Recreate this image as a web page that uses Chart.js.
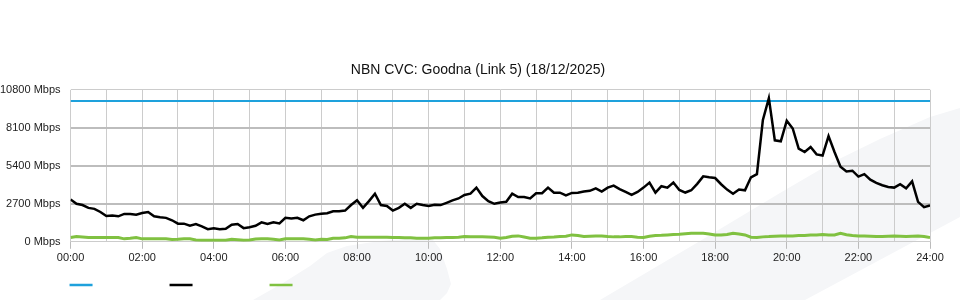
<!DOCTYPE html>
<html>
<head>
<meta charset="utf-8">
<title>NBN CVC: Goodna (Link 5)</title>
<script src="https://cdn.jsdelivr.net/npm/chart.js@4/dist/chart.umd.min.js"></script>
<style>
  html, body { margin: 0; padding: 0; background: #fff; }
  canvas { display: block; }
</style>
</head>
<body>
<canvas id="cvcChart" width="960" height="300"></canvas>
<script>
// one sample every 10 minutes, 00:00 .. 24:00
const stepMinutes = 10;
const capacityMbps = 10000;

const downloadMbps = [
  3010, 2700, 2610, 2410, 2340, 2120,
  1830, 1860, 1810, 1980, 1980, 1930,
  2050, 2120, 1810, 1740, 1700, 1530,
  1290, 1290, 1140, 1260, 1090, 900,
  970, 900, 920, 1210, 1260, 970,
  1040, 1140, 1380, 1260, 1380, 1310,
  1700, 1650, 1700, 1530, 1810, 1930,
  2000, 2030, 2170, 2170, 2220, 2610,
  2950, 2410, 2890, 3420, 2610, 2540,
  2220, 2410, 2700, 2410, 2700, 2610,
  2540, 2630, 2610, 2770, 2940, 3080,
  3330, 3420, 3850, 3250, 2890, 2700,
  2790, 2840, 3420, 3180, 3180, 3080,
  3450, 3450, 3850, 3490, 3490, 3300,
  3470, 3490, 3570, 3620, 3800, 3570,
  3850, 3990, 3740, 3540, 3330, 3540,
  3850, 4210, 3490, 3950, 3850, 4210,
  3680, 3500, 3660, 4120, 4650, 4580,
  4530, 4090, 3710, 3420, 3710, 3660,
  4580, 4810, 8660, 10210, 7210, 7140,
  8600, 8050, 6620, 6380, 6730, 6210,
  6130, 7510, 6380, 5340, 5000, 5050,
  4630, 4810, 4410, 4190, 4020, 3900,
  3850, 4090, 3800, 4290, 2840, 2460,
  2590
];

const uploadMbps = [
  300, 370, 340, 300, 300, 300,
  300, 300, 300, 210, 250, 300,
  210, 210, 210, 210, 210, 160,
  180, 210, 210, 130, 110, 110,
  110, 110, 110, 180, 150, 110,
  130, 200, 210, 210, 180, 130,
  210, 210, 210, 210, 180, 130,
  180, 160, 250, 250, 280, 370,
  330, 330, 330, 330, 330, 330,
  310, 300, 290, 280, 260, 250,
  250, 280, 290, 300, 300, 330,
  370, 360, 360, 350, 340, 330,
  250, 300, 400, 420, 340, 260,
  250, 280, 330, 340, 370, 400,
  490, 450, 370, 400, 420, 420,
  370, 350, 350, 370, 370, 330,
  300, 400, 450, 460, 490, 520,
  540, 580, 610, 610, 610, 560,
  490, 490, 520, 610, 560, 490,
  330, 300, 350, 370, 400, 420,
  420, 420, 440, 450, 480, 490,
  520, 490, 490, 600, 500, 450,
  420, 420, 400, 370, 370, 400,
  420, 400, 370, 400, 420, 370,
  300
];

const yTicks = [0, 2700, 5400, 8100, 10800];
const xTickLabels = ['00:00', '02:00', '04:00', '06:00', '08:00', '10:00', '12:00',
  '14:00', '16:00', '18:00', '20:00', '22:00', '24:00'];

const toPoints = values => values.map((v, i) => ({ x: i * stepMinutes / 60, y: v }));

// faint grey swooshes behind the plot
const backdrop = {
  id: 'backdrop',
  beforeDraw(chart) {
    const ctx = chart.ctx;
    ctx.save();
    ctx.fillStyle = '#f5f6f8';
    ctx.beginPath();
    ctx.moveTo(600, 300);
    ctx.lineTo(700, 241);
    ctx.lineTo(780, 193);
    ctx.lineTo(833, 162);
    ctx.lineTo(880, 139);
    ctx.lineTo(930, 117);
    ctx.lineTo(960, 108);
    ctx.lineTo(960, 217);
    ctx.lineTo(805, 300);
    ctx.closePath();
    ctx.fill();
    ctx.beginPath();
    ctx.moveTo(253, 300);
    ctx.lineTo(283, 283);
    ctx.lineTo(310, 266);
    ctx.lineTo(327, 253);
    ctx.lineTo(347, 246);
    ctx.lineTo(380, 241);
    ctx.lineTo(407, 239);
    ctx.lineTo(433, 240);
    ctx.lineTo(440, 249);
    ctx.lineTo(447, 269);
    ctx.lineTo(451, 284);
    ctx.lineTo(447, 293);
    ctx.lineTo(440, 300);
    ctx.closePath();
    ctx.fill();
    ctx.restore();
  }
};

// legend: just short coloured strokes, no text
const lineKey = {
  id: 'lineKey',
  afterDraw(chart) {
    const ctx = chart.ctx;
    const left = chart.chartArea.left;
    ctx.save();
    chart.data.datasets.forEach((ds, i) => {
      ctx.strokeStyle = ds.borderColor;
      ctx.lineWidth = 2.5;
      ctx.beginPath();
      ctx.moveTo(left + i * 100 - 1, 285);
      ctx.lineTo(left + i * 100 + 22, 285);
      ctx.stroke();
    });
    ctx.restore();
  }
};

Chart.defaults.font.family = '"Liberation Sans", Arial, sans-serif';
Chart.defaults.color = '#222';

new Chart(document.getElementById('cvcChart'), {
  type: 'line',
  data: {
    datasets: [
      {
        label: 'Capacity',
        data: [{ x: 0, y: capacityMbps }, { x: 24, y: capacityMbps }],
        borderColor: '#1ea1dc',
        borderWidth: 2,
        pointRadius: 0,
        order: 2,
      },
      {
        label: 'Download',
        data: toPoints(downloadMbps),
        borderColor: '#000000',
        borderWidth: 2.5,
        pointRadius: 0,
        order: 0,
      },
      {
        label: 'Upload',
        data: toPoints(uploadMbps),
        borderColor: '#80c141',
        borderWidth: 3,
        pointRadius: 0,
        order: 1,
      },
    ]
  },
  options: {
    responsive: false,
    animation: false,
    // title box spans -10..966 so it centres near the middle of the canvas
    layout: { padding: { top: 0, right: -6, bottom: 32, left: -10 } },
    plugins: {
      legend: { display: false },
      tooltip: { enabled: false },
      title: {
        display: true,
        text: 'NBN CVC: Goodna (Link 5) (18/12/2025)',
        font: { size: 14, weight: 'normal' },
        color: '#111',
        padding: { top: 62, bottom: 11 },
      },
    },
    scales: {
      x: {
        type: 'linear',
        min: 0,
        max: 24,
        // keep the plot's right edge at x=930
        afterFit: scale => { scale.paddingRight = 30; },
        ticks: {
          stepSize: 1,
          autoSkip: false,
          maxRotation: 0,
          font: { size: 11 },
          padding: 3,
          callback: v => (v % 2 === 0 ? xTickLabels[v / 2] : ''),
        },
        grid: {
          color: '#cccccc',
          lineWidth: 1,
          tickLength: 7,
          tickColor: ctx => (ctx.tick && ctx.tick.value % 2 === 0 ? '#bbbbbb' : 'rgba(0,0,0,0)'),
        },
        border: { color: '#cccccc', width: 1 },
      },
      y: {
        min: yTicks[0],
        max: yTicks[yTicks.length - 1],
        afterBuildTicks: scale => { scale.ticks = yTicks.map(v => ({ value: v })); },
        ticks: {
          font: { size: 11 },
          padding: 10,
          callback: v => v + ' Mbps',
        },
        grid: {
          drawTicks: false,
          color: ctx => (ctx.index === 0 || ctx.index === yTicks.length - 1 ? '#cccccc' : '#bdbdbd'),
          lineWidth: ctx => (ctx.index === 0 || ctx.index === yTicks.length - 1 ? 1 : 2),
        },
        border: { display: false },
      },
    },
  },
  plugins: [backdrop, lineKey],
});
</script>
</body>
</html>
